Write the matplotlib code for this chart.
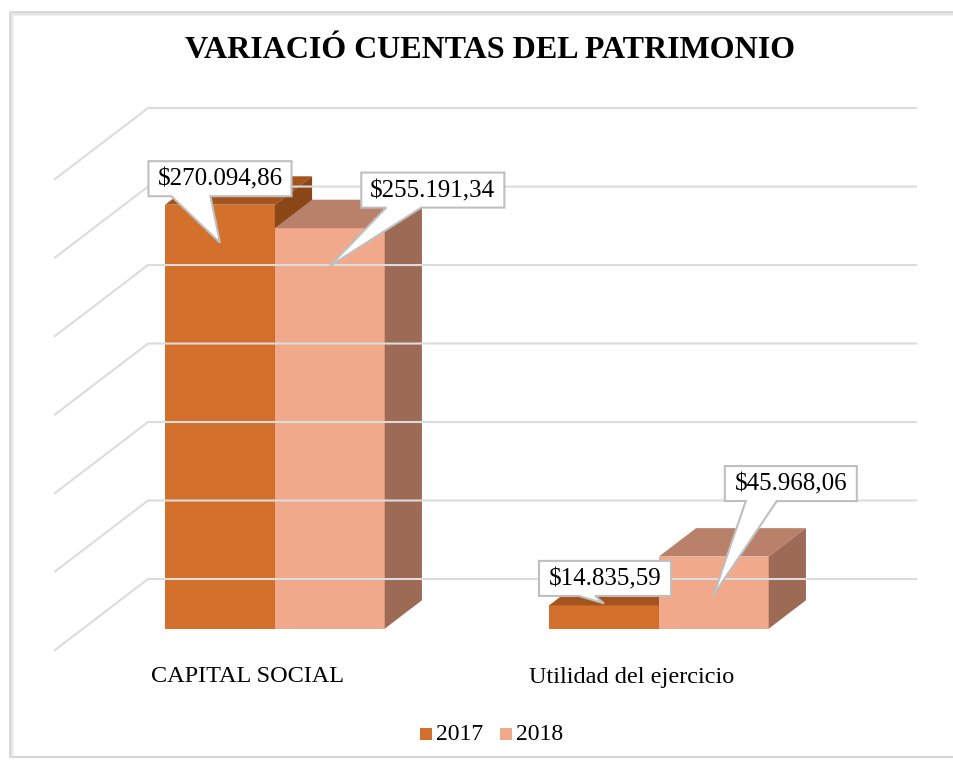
import matplotlib.pyplot as plt
from matplotlib.patches import Polygon, Rectangle

# data
categories = ['CAPITAL SOCIAL', 'Utilidad del ejercicio']
years = ['2017', '2018']
values_2017 = [270094.86, 14835.59]
values_2018 = [255191.34, 45968.06]
labels_2017 = ['$270.094,86', '$14.835,59']
labels_2018 = ['$255.191,34', '$45.968,06']
grid_max = 300000
grid_step = 50000

# style
face = {'2017': ('#D2702C', '#A4541F', '#8A4718'),
        '2018': ('#F0A98B', '#B9816A', '#9D6A56')}
grid_color = '#DCDCDC'
serif = 'Liberation Serif'

# pseudo 3d layout (pixel space, y grows downward)
x0, cat_w = 247, 384         # front floor x of category 0, px per category
floor_y = 650                # front floor y
dep_x, dep_y = 93, 71        # full depth offset
px_per_val = 424 / 270094.86
bar_w = 0.286
z_front, z_back = 0.3, 0.7


def proj(x, v, z):
    return (x0 + cat_w * x + dep_x * z, floor_y - v * px_per_val - dep_y * z)


fig = plt.figure(figsize=(9.54, 7.63), dpi=100)
ax = fig.add_axes([0, 0, 1, 1])
ax.set_xlim(0, 954)
ax.set_ylim(763, 0)
ax.axis('off')

# chart frame with a little shadow
for off, c in [(3, '#F0F0F0'), (1.5, '#E4E4E4')]:
    ax.add_patch(Rectangle((10 + off, 12 + off), 960, 745 - off, fill=False, ec=c, lw=1.5))
ax.add_patch(Rectangle((10, 12), 960, 745, fill=False, ec='#D4D4D4', lw=1.2))

# gridlines: back wall + left side wall
v = 0
while v <= grid_max:
    ax.plot(*zip(proj(-0.5, v, 0), proj(-0.5, v, 1), proj(1.5, v, 1)),
            color=grid_color, lw=1.5, solid_joinstyle='miter')
    v += grid_step


def bar(xl, val, year):
    front, top, side = face[year]
    xr = xl + bar_w
    pts = [proj(xl, 0, z_front), proj(xr, 0, z_front), proj(xr, val, z_front), proj(xl, val, z_front)]
    ax.add_patch(Polygon(pts, closed=True, fc=front, ec='none'))
    pts = [proj(xl, val, z_front), proj(xr, val, z_front), proj(xr, val, z_back), proj(xl, val, z_back)]
    ax.add_patch(Polygon(pts, closed=True, fc=top, ec='none'))
    pts = [proj(xr, 0, z_front), proj(xr, 0, z_back), proj(xr, val, z_back), proj(xr, val, z_front)]
    ax.add_patch(Polygon(pts, closed=True, fc=side, ec='none'))


def callout(xl, val, text, dx, dy, base):
    # tip on the bar front face, box placed at offset (dx, dy) from tip
    cx, top = proj(xl + bar_w / 2, val, z_front)
    h = val * px_per_val
    tip = (cx, top + (38 if h > 60 else -2))
    bw, bh = 21 + 11.1 * len(text), 35
    bx, by = tip[0] + dx, tip[1] + dy
    L, R, T, B = bx - bw / 2, bx + bw / 2, by - bh / 2, by + bh / 2
    b1, b2 = L + base[0], L + base[1]
    pts = [(L, T), (R, T), (R, B), (b2, B), tip, (b1, B), (L, B)]
    ax.add_patch(Polygon(pts, closed=True, fc='white', ec='#BFBFBF', lw=1.5, zorder=5))
    ax.text(bx, by + 1, text, ha='center', va='center', fontsize=18,
            family=serif, zorder=6)


label_offsets_2017 = [(0, -64, (23, 62)), (1, -25, (40, 56))]
label_offsets_2018 = [(103, -76, (25, 60)), (77, -111, (21, 52))]

for i in range(len(categories)):
    bar(i - bar_w, values_2017[i], '2017')
    bar(i, values_2018[i], '2018')

for i in range(len(categories)):
    dx, dy, base = label_offsets_2017[i]
    callout(i - bar_w, values_2017[i], labels_2017[i], dx, dy, base)
    dx, dy, base = label_offsets_2018[i]
    callout(i, values_2018[i], labels_2018[i], dx, dy, base)

# category labels on the front floor edge
for i, cat in enumerate(categories):
    x, y = proj(i, 0, 0)
    ax.text(x + 1, y + 27, cat, ha='center', va='center', fontsize=17.5, family=serif)

ax.text(490, 50, 'VARIACIÓ CUENTAS DEL PATRIMONIO', ha='center', va='center',
        fontsize=23, fontweight='bold', family=serif)

# legend
lx = 420
for yr in years:
    ax.add_patch(Rectangle((lx, 728), 12, 12, fc=face[yr][0], ec='none'))
    ax.text(lx + 16, 735, yr, ha='left', va='center', fontsize=17, family=serif)
    lx += 80

plt.savefig('out.png', dpi=100)
